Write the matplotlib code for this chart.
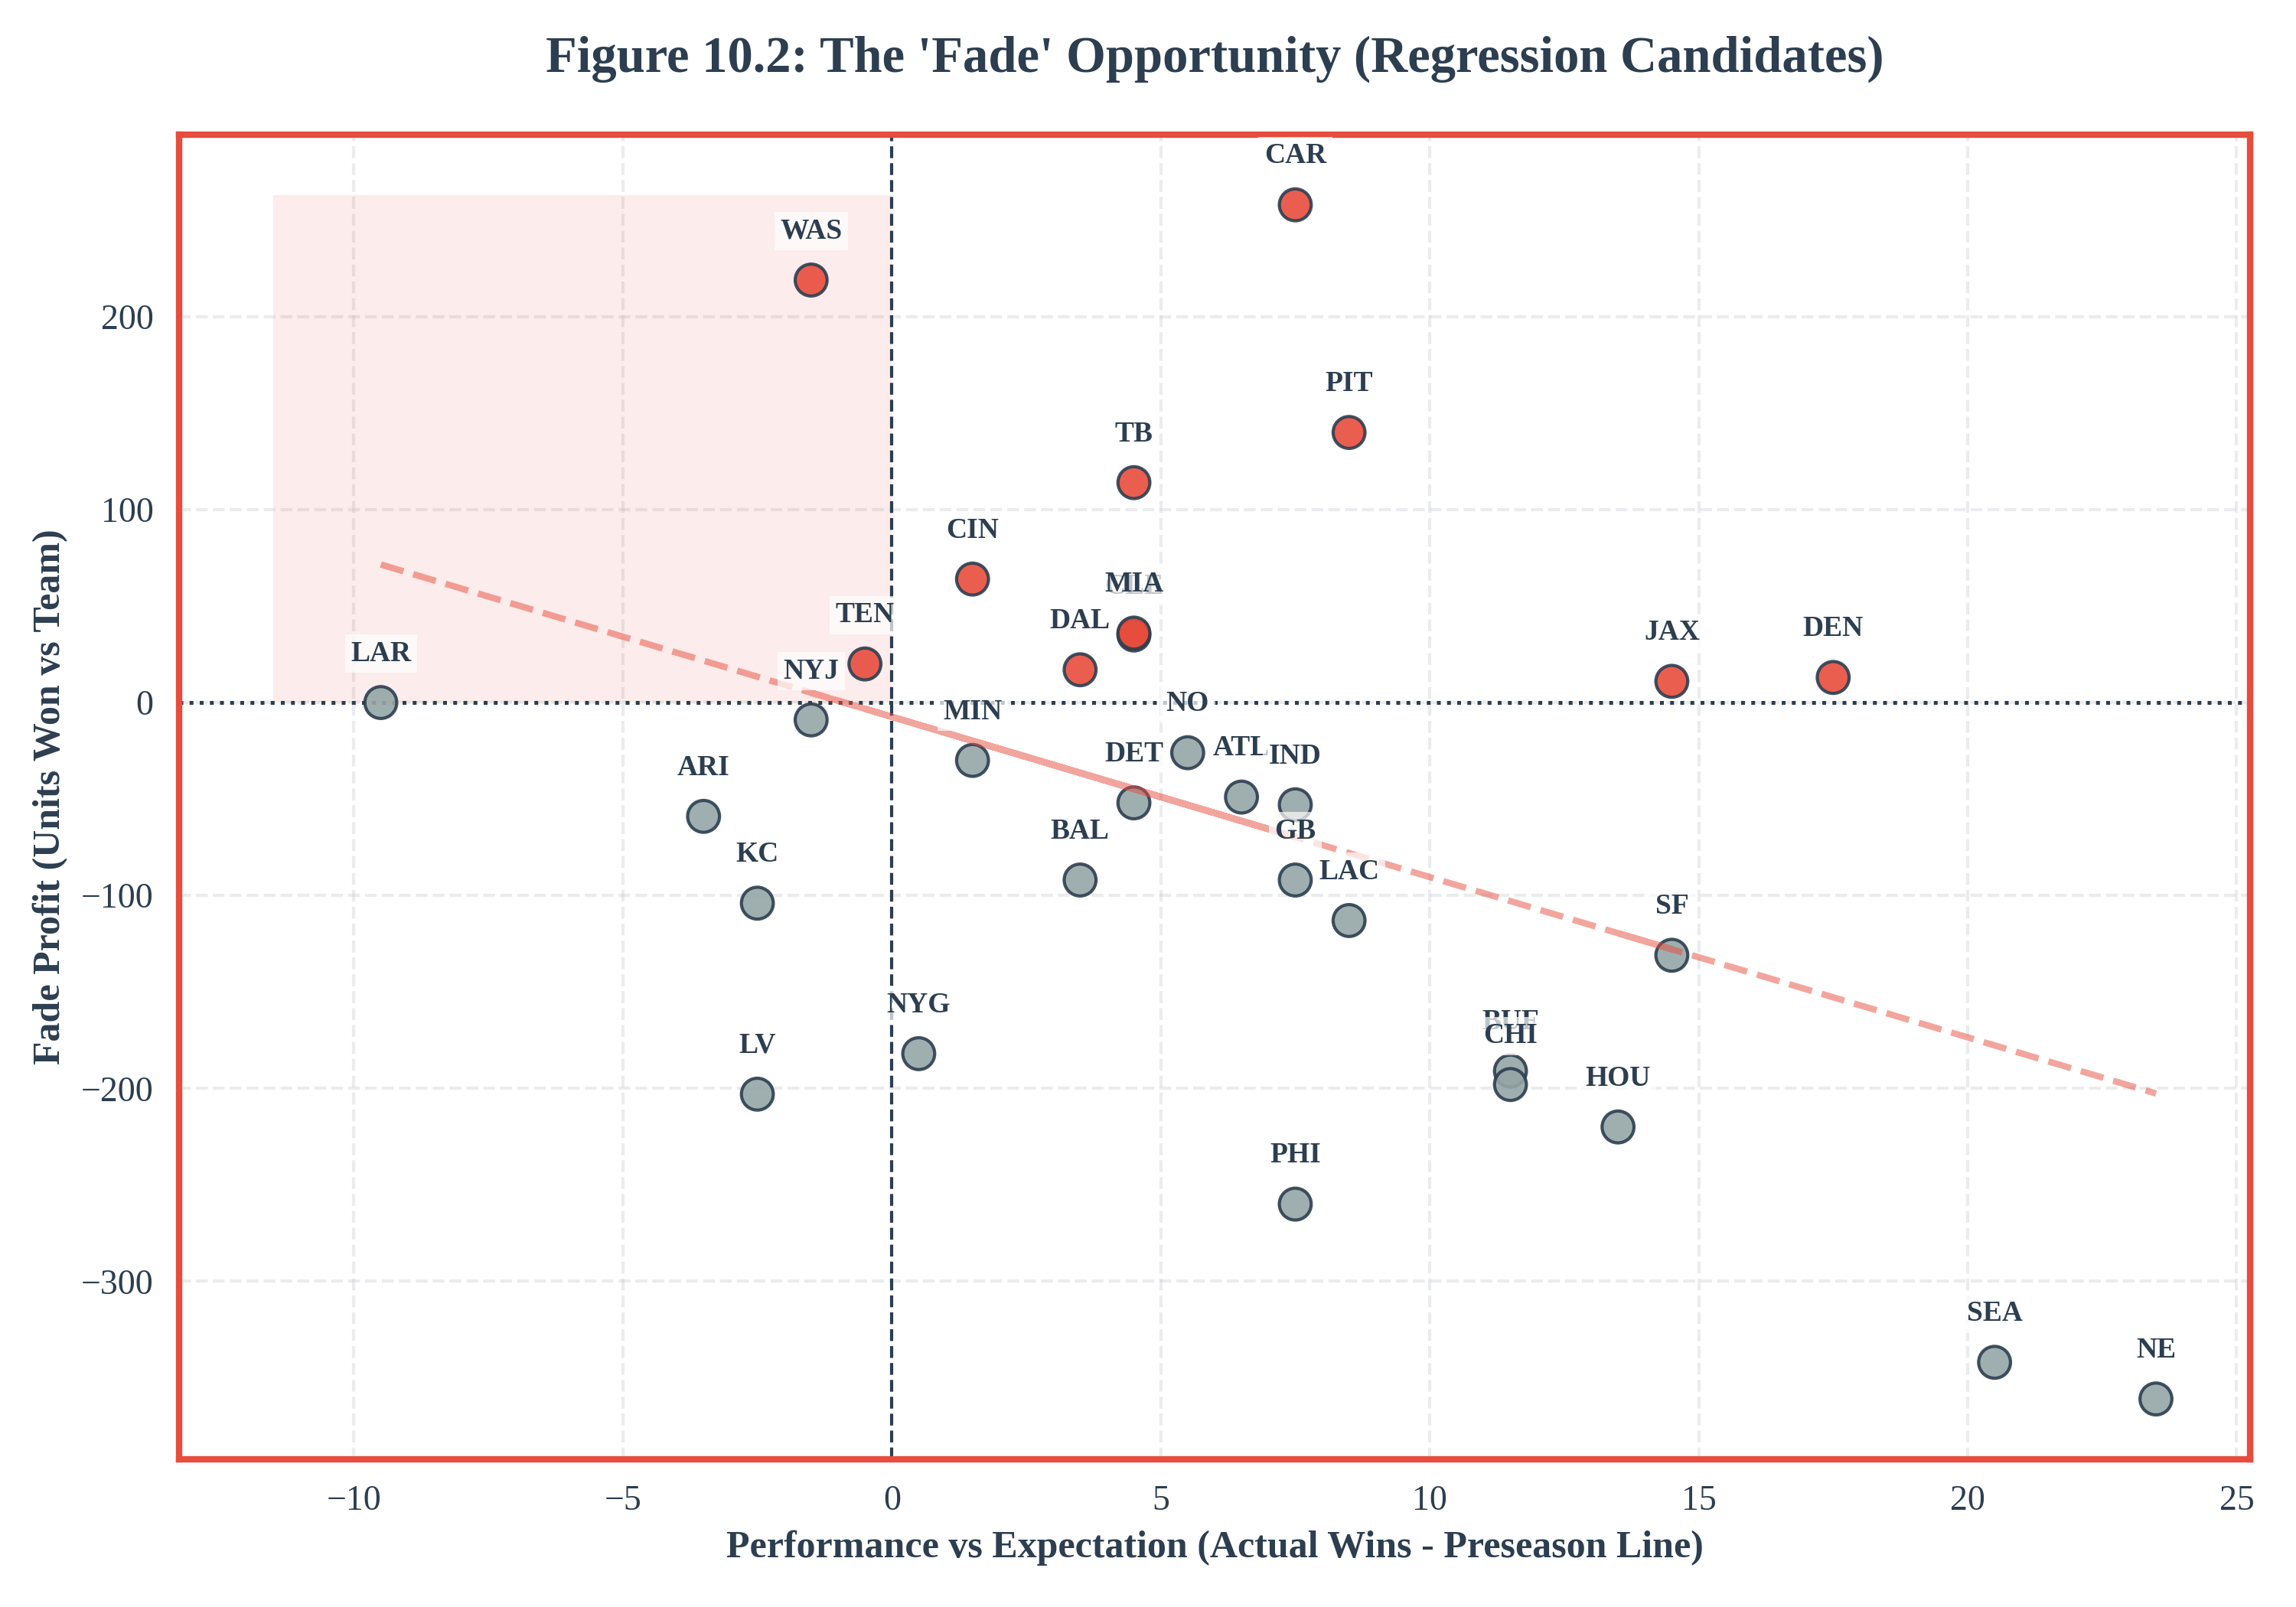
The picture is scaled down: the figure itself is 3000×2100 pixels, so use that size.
import matplotlib
matplotlib.use("Agg")
import matplotlib.pyplot as plt
import numpy as np

plt.rcParams['font.family'] = ['Liberation Serif', 'DejaVu Serif']

# Team data (order also drives how the fit line is traced)
teams = ['LAR', 'ARI', 'KC', 'LV', 'WAS', 'CAR', 'NYJ', 'GB', 'TEN', 'IND', 'NYG',
         'PHI', 'MIN', 'DET', 'CIN', 'ATL', 'DAL', 'NO', 'BAL', 'CLE', 'MIA', 'TB',
         'PIT', 'LAC', 'BUF', 'CHI', 'JAX', 'HOU', 'SF', 'DEN', 'SEA', 'NE']
win_diff = [-9.5, -3.5, -2.5, -2.5, -1.5, 7.5, -1.5, 7.5, -0.5, 7.5, 0.5,
            7.5, 1.5, 4.5, 1.5, 6.5, 3.5, 5.5, 3.5, 4.5, 4.5, 4.5,
            8.5, 8.5, 11.5, 11.5, 14.5, 13.5, 14.5, 17.5, 20.5, 23.5]
fade_profit = [0, -59, -104, -203, 219, 258, -9, -92, 20, -53, -182,
               -260, -30, -52, 64, -49, 17, -26, -92, 35, 36, 114,
               140, -113, -191, -198, 11, -220, -131, 13, -342, -361]

x = np.array(win_diff)
y = np.array(fade_profit)

RED = '#e74c3c'
GRAY = '#95a5a6'
DARK = '#2c3e50'

fig, ax = plt.subplots(figsize=(10, 7), dpi=300)

# shaded "fade zone"
ax.fill_between([x.min() - 2, 0], 0, y.max() + 5, color=RED, alpha=0.1, linewidth=0)

colors = [RED if v > 0 else GRAY for v in y]
ax.scatter(x, y, c=colors, s=100, alpha=0.9, edgecolors=DARK, linewidths=1, zorder=3)

# regression line
z = np.polyfit(x, y, 1)
p = np.poly1d(z)
ax.plot(x, p(x), '--', color=RED, alpha=0.5, linewidth=2, zorder=4)

ax.axhline(0, color=DARK, linestyle=':', linewidth=1.2, zorder=2)
ax.axvline(0, color=DARK, linestyle='--', linewidth=1, zorder=2)

order = np.argsort(teams, kind='stable')
for i in order:
    ax.annotate(teams[i], (x[i], y[i]), xytext=(0, 13), textcoords='offset points',
                ha='center', va='baseline', fontsize=9, fontweight='bold', color=DARK,
                bbox=dict(boxstyle='square,pad=0.2', facecolor='white', edgecolor='none', alpha=0.7),
                zorder=5)

ax.grid(True, linestyle='--', color='#bdc3c7', alpha=0.3, linewidth=1)
ax.set_axisbelow(True)
for spine in ax.spines.values():
    spine.set_color(RED)
    spine.set_linewidth(2)
ax.tick_params(colors=DARK, labelsize=11, length=0, pad=8)

ax.set_xlabel('Performance vs Expectation (Actual Wins - Preseason Line)',
              fontsize=12, fontweight='bold', color=DARK)
ax.set_ylabel('Fade Profit (Units Won vs Team)', fontsize=12, fontweight='bold', color=DARK)
ax.set_title("Figure 10.2: The 'Fade' Opportunity (Regression Candidates)",
             fontsize=16, fontweight='bold', color=DARK, pad=20)

fig.subplots_adjust(left=0.078, right=0.98, top=0.916, bottom=0.092)
fig.savefig('out.png', dpi=300, facecolor='white')
